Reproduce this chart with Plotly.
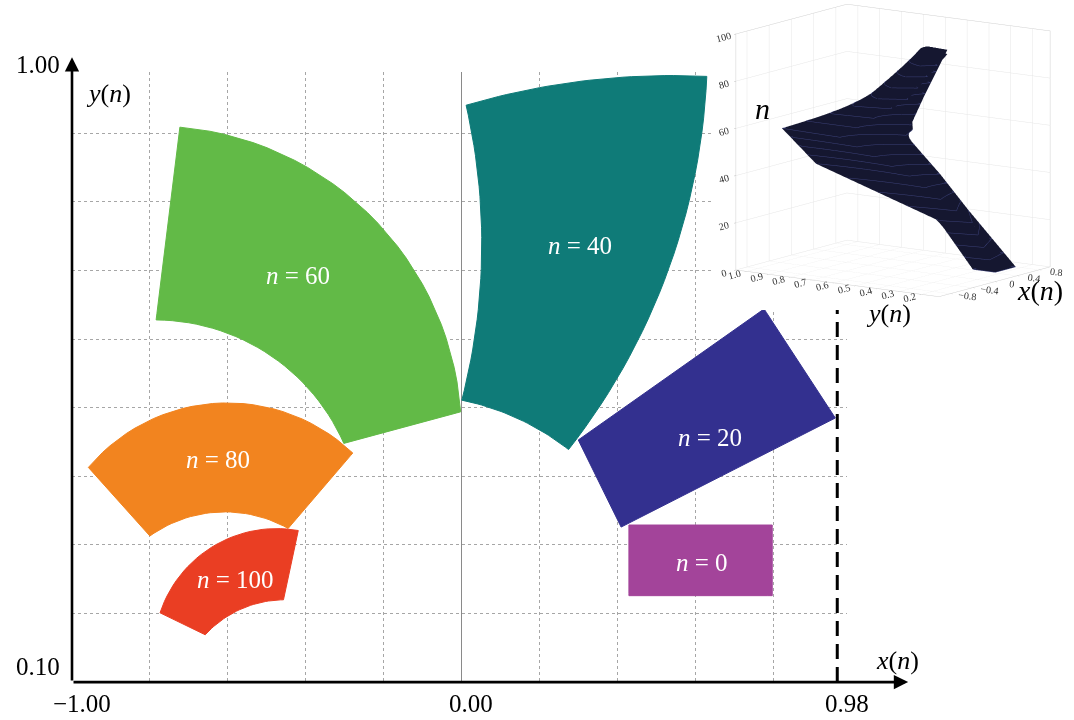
import numpy as np
import plotly.graph_objects as go

# ------------------------------------------------------------------
# Data
# ------------------------------------------------------------------
n_steps = [0, 20, 40, 60, 80, 100]
shape_colors = ["#A3449A", "#33308F", "#0F7B78", "#62BA47", "#F2841F", "#EA3E23"]

# Outline key points of every region, clockwise:
# corner1, edge-mid, corner2, edge-mid, corner3, edge-mid, corner4, edge-mid
# (None for an edge mid-point = straight edge)
n0_x = [0.430, None, 0.798, None, 0.798, None, 0.430, None]
n0_y = [0.329, None, 0.329, None, 0.226, None, 0.226, None]

n20_x = [0.300, None, 0.777, None, 0.960, None, 0.410, None]
n20_y = [0.453, None, 0.644, None, 0.485, None, 0.326, None]

n40_x = [0.012, 0.322, 0.630, 0.540, 0.275, 0.138, 0.001, 0.052]
n40_y = [0.941, 0.977, 0.983, 0.715, 0.439, 0.486, 0.511, 0.725]

n60_x = [-0.723, -0.228, -0.002, None, -0.302, -0.543, -0.784, None]
n60_y = [0.909, 0.777, 0.494, None, 0.448, 0.594, 0.628, None]

n80_x = [-0.958, -0.603, -0.279, None, -0.445, -0.620, -0.800, None]
n80_y = [0.413, 0.507, 0.434, None, 0.324, 0.348, 0.313, None]

n100_x = [-0.774, -0.646, -0.419, None, -0.457, -0.560, -0.658, None]
n100_y = [0.201, 0.295, 0.321, None, 0.220, 0.208, 0.169, None]

label_x = [0.618, 0.638, 0.304, -0.420, -0.625, -0.581]
label_y = [0.275, 0.457, 0.737, 0.693, 0.424, 0.249]

x_tick_vals = [-1.0, 0.0, 0.965]
x_tick_text = ["\u22121.00", "0.00", "0.98"]
y_tick_vals = [1.0, 0.1]
y_tick_text = ["1.00", "0.10"]

x_bound = 0.965
x_bound_top = 0.657
x_arrow_tip = 1.147
y_arrow_tip = 1.011

inset_n_ticks = [0, 20, 40, 60, 80, 100]
inset_y_ticks = [0.2, 0.3, 0.4, 0.5, 0.6, 0.7, 0.8, 0.9, 1.0]
inset_x_ticks = [-0.8, -0.4, 0, 0.4, 0.8]

# ------------------------------------------------------------------
# Layout geometry
# ------------------------------------------------------------------
W, H = 1074, 720
x_range = [-1.0, 0.99]
y_range = [0.1, 0.99]
x_dom = [72 / W, 847 / W]
y_dom = [1 - 682.1 / H, 1 - 71.6 / H]
sx = (x_dom[1] - x_dom[0]) * W / (x_range[1] - x_range[0])   # px per x unit
sy = (y_dom[1] - y_dom[0]) * H / (y_range[1] - y_range[0])   # px per y unit


def xp(v):
    return x_dom[0] + (v - x_range[0]) / (x_range[1] - x_range[0]) * (x_dom[1] - x_dom[0])


def yp(v):
    return y_dom[0] + (v - y_range[0]) / (y_range[1] - y_range[0]) * (y_dom[1] - y_dom[0])


K = 30  # samples per edge


def edge(p0, pm, p1):
    a = np.array([p0[0] * sx, p0[1] * sy])
    c = np.array([p1[0] * sx, p1[1] * sy])
    t = np.linspace(0, 1, K)
    if pm[0] is None:
        pts = a[None, :] + (c - a)[None, :] * t[:, None]
    else:
        b = np.array([pm[0] * sx, pm[1] * sy])
        ax_, ay_ = a
        bx_, by_ = b
        cx_, cy_ = c
        d = 2 * (ax_ * (by_ - cy_) + bx_ * (cy_ - ay_) + cx_ * (ay_ - by_))
        if abs(d) < 1e-9:
            pts = a[None, :] + (c - a)[None, :] * t[:, None]
        else:
            sa, sb, sc = ax_**2 + ay_**2, bx_**2 + by_**2, cx_**2 + cy_**2
            ux = (sa * (by_ - cy_) + sb * (cy_ - ay_) + sc * (ay_ - by_)) / d
            uy = (sa * (cx_ - bx_) + sb * (ax_ - cx_) + sc * (bx_ - ax_)) / d
            r = np.hypot(ax_ - ux, ay_ - uy)
            t0 = np.arctan2(ay_ - uy, ax_ - ux)
            tm = np.arctan2(by_ - uy, bx_ - ux)
            t1 = np.arctan2(cy_ - uy, cx_ - ux)
            ccw = lambda s, e: (e - s) % (2 * np.pi)
            if ccw(t0, tm) < ccw(t0, t1):
                sweep = ccw(t0, t1)
            else:
                sweep = -((t0 - t1) % (2 * np.pi))
            th = t0 + sweep * t
            pts = np.stack([ux + r * np.cos(th), uy + r * np.sin(th)], axis=1)
    return pts[:, 0] / sx, pts[:, 1] / sy


def outline(xs, ys):
    ox, oy = [], []
    for i in range(4):
        c0 = (xs[2 * i], ys[2 * i])
        m = (xs[2 * i + 1], ys[2 * i + 1])
        j = (2 * i + 2) % 8
        c1 = (xs[j], ys[j])
        ex, ey = edge(c0, m, c1)
        ox.extend(ex[:-1])
        oy.extend(ey[:-1])
    ox.append(ox[0])
    oy.append(oy[0])
    return np.array(ox), np.array(oy)


shape_pts = [(n0_x, n0_y), (n20_x, n20_y), (n40_x, n40_y),
             (n60_x, n60_y), (n80_x, n80_y), (n100_x, n100_y)]
outlines = [outline(a, b) for a, b in shape_pts]

fig = go.Figure()

# dashed bound line
fig.add_trace(go.Scatter(x=[x_bound, x_bound], y=[y_range[0], x_bound_top], mode="lines",
                         line=dict(color="black", width=3, dash="15px,8px"),
                         hoverinfo="skip", showlegend=False))

for (ox, oy), col in zip(outlines, shape_colors):
    fig.add_trace(go.Scatter(x=ox, y=oy, mode="lines", fill="toself", fillcolor=col,
                             line=dict(color=col, width=1), hoverinfo="skip",
                             showlegend=False))

# 3D inset: the regions stacked along n
SX = np.array([o[0] for o in outlines])
SY = np.array([o[1] for o in outlines])
SZ = np.array([[n] * SX.shape[1] for n in n_steps], dtype=float)
navy = "#262a58"
fig.add_trace(go.Surface(x=SX, y=SY, z=SZ, surfacecolor=np.zeros_like(SZ),
                         colorscale=[[0, navy], [1, navy]], cmin=0, cmax=1,
                         showscale=False, hoverinfo="skip",
                         lighting=dict(ambient=0.55, diffuse=0.8, specular=0.25,
                                       roughness=0.7, fresnel=0.2),
                         lightposition=dict(x=-300, y=-500, z=800),
                         contours=dict(z=dict(show=True, start=0, end=100, size=5,
                                              color="#3b4077", width=1)),
                         scene="scene"))

serif = "Liberation Serif"
ann = []
# axis arrows
ann.append(dict(xref="paper", yref="paper", x=xp(-1.0), y=yp(y_arrow_tip),
                axref="pixel", ayref="pixel", ax=0, ay=(y_arrow_tip - 0.1) * sy,
                showarrow=True, arrowhead=2, arrowsize=1.1, arrowwidth=2.6,
                arrowcolor="black", text="", standoff=0, startstandoff=0))
ann.append(dict(xref="paper", yref="paper", x=xp(x_arrow_tip), y=yp(0.1),
                axref="pixel", ayref="pixel", ax=-(x_arrow_tip + 1.0) * sx, ay=0,
                showarrow=True, arrowhead=2, arrowsize=1.1, arrowwidth=2.6,
                arrowcolor="black", text="", standoff=0, startstandoff=0))
# tick labels
for v, t in zip(x_tick_vals, x_tick_text):
    ann.append(dict(xref="paper", yref="paper", x=xp(v), y=yp(0.1), text=t,
                    showarrow=False, xanchor="center", yanchor="top",
                    xshift=10, yshift=-6, font=dict(family=serif, size=25, color="black")))
for v, t in zip(y_tick_vals, y_tick_text):
    ann.append(dict(xref="paper", yref="paper", x=xp(-1.0), y=yp(v), text=t,
                    showarrow=False, xanchor="right",
                    yanchor="bottom" if v == min(y_tick_vals) else "middle",
                    xshift=-10, font=dict(family=serif, size=25, color="black")))
# axis titles
ann.append(dict(xref="paper", yref="paper", x=xp(-0.906), y=yp(0.958),
                xanchor="center", yanchor="middle",
                text="<i>y</i>(<i>n</i>)", showarrow=False,
                font=dict(family=serif, size=26, color="black")))
ann.append(dict(xref="paper", yref="paper", x=xp(1.119), y=yp(0.132),
                xanchor="center", yanchor="middle",
                text="<i>x</i>(<i>n</i>)", showarrow=False,
                font=dict(family=serif, size=26, color="black")))
# region labels
for n, lx, ly in zip(n_steps, label_x, label_y):
    ann.append(dict(x=lx, y=ly, xref="x", yref="y", text=f"<i>n</i> = {n}",
                    xanchor="center", yanchor="middle",
                    showarrow=False, font=dict(family=serif, size=25, color="white")))
# inset labels
ann.append(dict(xref="paper", yref="paper", x=762 / W, y=1 - 108 / H, text="<i>n</i>",
                xanchor="center", yanchor="middle",
                showarrow=False, font=dict(family=serif, size=30, color="black")))
ann.append(dict(xref="paper", yref="paper", x=888 / W, y=1 - 313 / H,
                xanchor="center", yanchor="middle",
                text="<i>y</i>(<i>n</i>)", showarrow=False,
                font=dict(family=serif, size=26, color="black")))
ann.append(dict(xref="paper", yref="paper", x=1040 / W, y=1 - 290 / H,
                xanchor="center", yanchor="middle",
                text="<i>x</i>(<i>n</i>)", showarrow=False,
                font=dict(family=serif, size=28, color="black")))

grid_col = "#a6a6a6"
ax3 = dict(showbackground=False, showgrid=True, gridcolor="#e6e6e6", gridwidth=1,
           showline=True, linecolor="#d0d0d0", linewidth=1, mirror=True,
           zeroline=False, showspikes=False, title=dict(text=""),
           tickfont=dict(family=serif, size=11, color="#333333"),
           ticks="outside", ticklen=3, tickcolor="#bbbbbb")

fig.update_layout(
    width=W, height=H,
    margin=dict(l=0, r=0, t=0, b=0),
    paper_bgcolor="white", plot_bgcolor="white",
    showlegend=False, hovermode=False,
    xaxis=dict(domain=x_dom, range=x_range, tick0=0, dtick=0.2,
               showgrid=True, gridcolor=grid_col, griddash="dot", gridwidth=1,
               zeroline=True, zerolinecolor="#8a8a8a", zerolinewidth=1.2,
               showticklabels=False, ticks="", showline=False, fixedrange=True),
    yaxis=dict(domain=y_dom, range=y_range, tick0=0.1, dtick=0.1,
               showgrid=True, gridcolor=grid_col, griddash="dot", gridwidth=1,
               zeroline=False, showticklabels=False, ticks="", showline=False,
               fixedrange=True),
    scene=dict(
        domain=dict(x=[712 / W, 1.0], y=[1 - 310 / H, 1.0]),
        bgcolor="white",
        xaxis=dict(ax3, range=[-1.0, 1.0], tickvals=inset_x_ticks),
        yaxis=dict(ax3, range=[0.12, 1.05], tickvals=inset_y_ticks, tickformat=".1f"),
        zaxis=dict(ax3, range=[0, 100], tickvals=inset_n_ticks),
        aspectmode="manual", aspectratio=dict(x=1.25, y=1.6, z=1.55),
        camera=dict(up=dict(x=0, y=0, z=1), center=dict(x=0.0, y=0, z=-0.03),
                    eye=dict(x=-1.5, y=-1.05, z=0.32),
                    projection=dict(type="orthographic")),
    ),
    annotations=ann,
)

fig.write_html("out.html", config=dict(displayModeBar=False),
               post_script="document.body.style.margin='0px';")
